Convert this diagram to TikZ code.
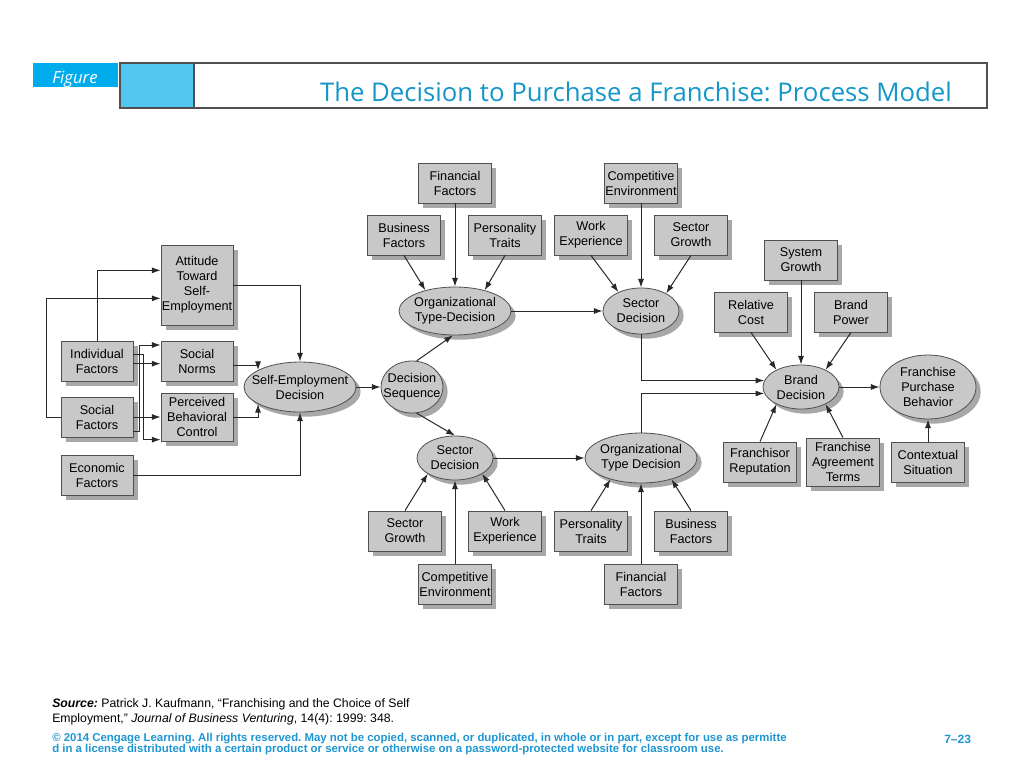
\documentclass[tikz,border=0pt]{standalone}
\usepackage{fontspec}
\setmainfont{Liberation Sans}
\newfontfamily\titlefont{Open Sans}
\usetikzlibrary{shapes.geometric,shadows,arrows.meta}
\frenchspacing

\definecolor{boxgray}{RGB}{200,200,200}
\definecolor{shadegray}{RGB}{168,168,168}
\definecolor{edgegray}{RGB}{80,80,80}
\definecolor{linkgray}{RGB}{40,40,40}
\definecolor{titleblue}{RGB}{20,150,200}
\definecolor{figblue}{RGB}{0,172,236}
\definecolor{paleblue}{RGB}{80,198,240}
\definecolor{noteblue}{RGB}{30,150,210}

\begin{document}
\begin{tikzpicture}[x=0.75pt,y=0.75pt,yscale=-1,xscale=1,
  factor/.style={draw=edgegray,fill=boxgray,line width=0.6pt,align=center,
    inner sep=0pt,minimum width=54.75pt,minimum height=30pt,
    font=\fontsize{9.5}{11.25}\selectfont,
    drop shadow={shadow xshift=3.5pt,shadow yshift=-3.5pt,fill=shadegray,opacity=1}},
  oval/.style={ellipse,draw=edgegray,fill=boxgray,line width=0.6pt,inner sep=0pt,
    drop shadow={shadow xshift=3.5pt,shadow yshift=-3.5pt,fill=shadegray,opacity=1}},
  every label/.style={align=center,font=\fontsize{9.5}{11.25}\selectfont},
  link/.style={draw=linkgray,line width=0.75pt,-{Latex[length=6.5pt,width=4.5pt]}}]
\useasboundingbox (0,0) rectangle (1024,768);

%Header
\fill [figblue] (33,63) rectangle (118,87);
\fill [paleblue] (121,64) rectangle (194,107);
\draw [edgegray,line width=1.2pt] (194,63) -- (194,108);
\draw [edgegray,line width=1.5pt] (120,63) rectangle (987,108);
\node [anchor=west,inner sep=0pt,text=white] (figlbl) at (52,79) {\titlefont\itshape\fontsize{12.5}{14}\selectfont Figure};
\node [inner sep=0pt,text=titleblue] (title) at (636,92) {\titlefont\fontsize{19.3}{22}\selectfont The Decision to Purchase a Franchise: Process Model};

%Left group
\node [factor,minimum width=54pt,minimum height=60pt] (att) at (197,285) {Attitude\\Toward\\Self-\\Employment};
\node [factor,minimum width=54pt] (indf) at (97,361) {Individual\\Factors};
\node [factor,minimum width=54pt] (snorm) at (197,361) {Social\\Norms};
\node [factor,minimum width=54pt] (socf) at (97,417) {Social\\Factors};
\node [factor,minimum width=54pt,minimum height=36pt] (pbc) at (197,417) {Perceived\\Behavioral\\Control};
\node [factor,minimum width=54pt] (ecof) at (97,475) {Economic\\Factors};
\node [oval,minimum width=84pt,minimum height=37.5pt,label=center:{Self-Employment\\Decision}] (sed) at (300,387) {};
\node [oval,minimum width=46.5pt,minimum height=39pt,label=center:{Decision\\Sequence}] (dseq) at (412,387) {};

%Upper group
\node [factor] (finf1) at (455,183) {Financial\\Factors};
\node [factor] (busf1) at (404,235) {Business\\Factors};
\node [factor] (pers1) at (505,235) {Personality\\Traits};
\node [oval,minimum width=84pt,minimum height=36pt,label=center:{Organizational\\Type-Decision}] (otd1) at (455,311) {};
\node [factor] (comp1) at (641,183) {Competitive\\Environment};
\node [factor] (work1) at (591,235) {Work\\Experience};
\node [factor] (sgro1) at (691,235) {Sector\\Growth};
\node [oval,minimum width=57pt,minimum height=34.5pt,label=center:{Sector\\Decision}] (sdec1) at (641,311) {};

%Lower group
\node [oval,minimum width=57pt,minimum height=33pt,label=center:{Sector\\Decision}] (sdec2) at (455,458) {};
\node [factor] (sgro2) at (405,531) {Sector\\Growth};
\node [factor] (work2) at (505,531) {Work\\Experience};
\node [factor] (comp2) at (455,584) {Competitive\\Environment};
\node [oval,minimum width=84pt,minimum height=37.5pt,label=center:{Organizational\\Type Decision}] (otd2) at (641,458) {};
\node [factor] (pers2) at (591,531) {Personality\\Traits};
\node [factor] (busf2) at (691,531) {Business\\Factors};
\node [factor] (finf2) at (641,584) {Financial\\Factors};

%Right group
\node [factor] (sysg) at (801,260) {System\\Growth};
\node [factor] (rcost) at (751,312) {Relative\\Cost};
\node [factor] (bpow) at (851,312) {Brand\\Power};
\node [oval,minimum width=57pt,minimum height=33pt,label=center:{Brand\\Decision}] (bdec) at (801,387) {};
\node [oval,minimum width=72pt,minimum height=48pt,label=center:{Franchise\\Purchase\\Behavior}] (fpb) at (928,387) {};
\node [factor] (frep) at (760,462) {Franchisor\\Reputation};
\node [factor,minimum height=36pt] (fagr) at (843,462) {Franchise\\Agreement\\Terms};
\node [factor] (ctx) at (928,462) {Contextual\\Situation};

%Connections left
\draw [link] (socf.west) -- ++(-14,0) |- ([yshift=10pt]att.west);
\draw [link] (indf.north) |- ([yshift=-11pt]att.west);
\draw [link] ([yshift=2pt]indf.east) -- ([yshift=2pt]snorm.west);
\draw [link] ([yshift=-5pt]indf.east) -- ++(10,0) |- ([yshift=17pt]pbc.west);
\draw [link] ([yshift=10.5pt]socf.east) -- ++(6,0) |- ([yshift=-12pt]snorm.west);
\draw [link] (socf) -- (pbc);
\draw [link] (att.east) -| (sed.north);
\draw [link] ([yshift=3pt]snorm.east) -| (sed.158);
\draw [link] (pbc.east) -| (sed.202);
\draw [link] (ecof.east) -| (sed.south);
\draw [link] (sed) -- (dseq);
\draw [link] (dseq.80) -- (otd1.265);
\draw [link] (dseq.280) -- (sdec2.north);

%Connections upper
\draw [link] (busf1.south) -- (otd1.145);
\draw [link] (finf1.south) -- (otd1.north);
\draw [link] (pers1.south) -- (otd1.35);
\draw [link] (otd1) -- (sdec1);
\draw [link] (work1.south) -- (sdec1.140);
\draw [link] (comp1.south) -- (sdec1.north);
\draw [link] (sgro1.south) -- (sdec1.35);
\draw [link] (sdec1.south) |- (bdec.170);

%Connections lower
\draw [link] (sgro2.north) -- (sdec2.210);
\draw [link] (comp2.north) -- (sdec2.south);
\draw [link] (work2.north) -- (sdec2.330);
\draw [link] (sdec2) -- (otd2);
\draw [link] (pers2.north) -- (otd2.215);
\draw [link] (finf2.north) -- (otd2.south);
\draw [link] (busf2.north) -- (otd2.325);
\draw [link] (otd2.north) |- (bdec.190);

%Connections right
\draw [link] (rcost.south) -- (bdec.145);
\draw [link] (sysg.south) -- (bdec.north);
\draw [link] (bpow.south) -- (bdec.35);
\draw [link] (bdec) -- (fpb);
\draw [link] (frep.north) -- (bdec.215);
\draw [link] (fagr.north) -- (bdec.325);
\draw [link] (ctx) -- (fpb);

%Footer
\node [anchor=west,align=left,inner sep=0pt,font=\fontsize{9.2}{11.25}\selectfont] (src) at (52,711.5) {\textbf{\textit{Source:}} Patrick J. Kaufmann, “Franchising and the Choice of Self\\Employment,” \textit{Journal of Business Venturing}, 14(4): 1999: 348.};
\node [anchor=west,align=left,inner sep=0pt,text=noteblue,font=\bfseries\fontsize{8.55}{8.25}\selectfont] (copy) at (52,744.5) {© 2014 Cengage Learning. All rights reserved. May not be copied, scanned, or duplicated, in whole or in part, except for use as permitte\\d in a license distributed with a certain product or service or otherwise on a password-protected website for classroom use.};
\node [anchor=west,inner sep=0pt,text=noteblue,font=\bfseries\fontsize{9}{10}\selectfont] (pgno) at (944,739) {7–23};
\end{tikzpicture}
\end{document}
